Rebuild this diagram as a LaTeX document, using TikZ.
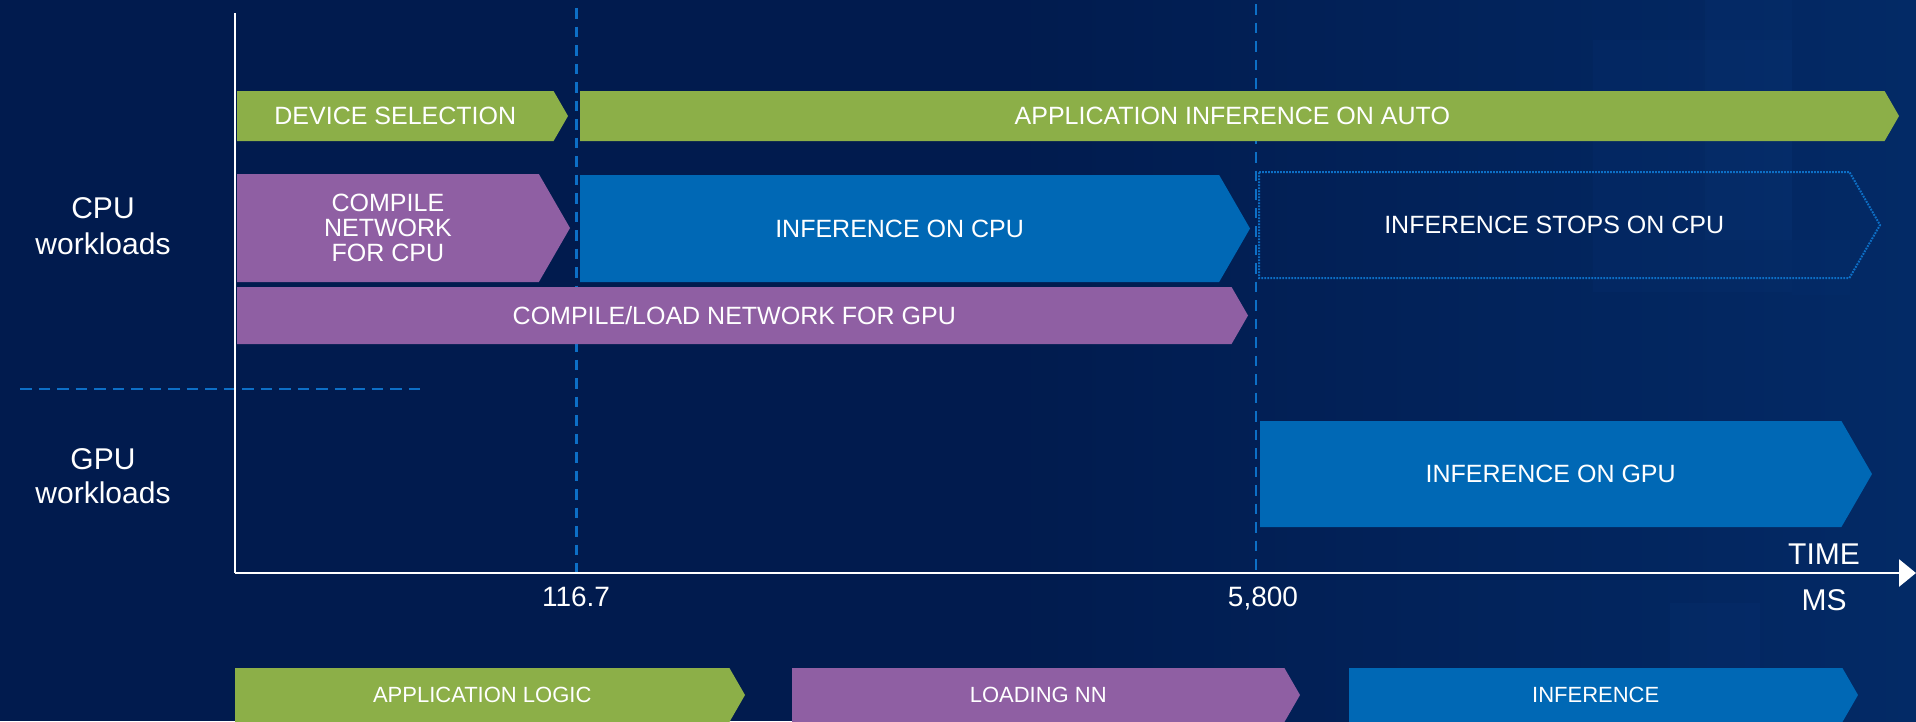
\documentclass[tikz,border=0pt]{standalone}
\usepackage{fontspec}
\setmainfont{Liberation Sans}
\usetikzlibrary{arrows.meta}

\definecolor{bgnavy}{HTML}{011B4E}
\definecolor{bgright}{HTML}{032A66}
\definecolor{bgpatch}{HTML}{0B3475}
\definecolor{appgreen}{HTML}{8CAF48}
\definecolor{loadpurple}{HTML}{8F5FA3}
\definecolor{runblue}{HTML}{0068B5}
\definecolor{guideblue}{HTML}{0D6FC6}

\tikzset{
  bartext/.style={text=white, inner sep=0pt, align=center,
    font=\fontsize{25}{25}\selectfont},
  smalltext/.style={text=white, inner sep=0pt,
    font=\fontsize{22}{22}\selectfont},
  sidelabel/.style={text=white, inner sep=0pt, anchor=base,
    font=\fontsize{30}{30}\selectfont},
  ticklabel/.style={text=white, inner sep=0pt, anchor=base,
    font=\fontsize{28}{28}\selectfont},
  axisline/.style={white, line width=2.8pt},
  guide/.style={guideblue, line width=2.5pt, dash pattern=on 10.5pt off 8pt},
  rowguide/.style={guideblue, line width=2.8pt, dash pattern=on 11.5pt off 7pt},
  greenbar/.style={fill=appgreen},
  purplebar/.style={fill=loadpurple},
  bluebar/.style={fill=runblue},
  ghostbar/.style={draw=guideblue, line width=2pt, dash pattern=on 1.8pt off 1.2pt},
}

% chevron bar: name, style, left x, tip x, top y, bottom y, label, label style
\newcommand\chevbar[8]{%
  \pgfmathsetmacro\chevhalf{(#6-#5)/2}%
  \pgfmathsetmacro\chevshoulder{#4-0.577*\chevhalf}%
  \pgfmathsetmacro\chevmid{(#5+#6)/2}%
  \path[#2] (#3,#5) -- (\chevshoulder,#5) -- (#4,\chevmid) -- (\chevshoulder,#6) -- (#3,#6) -- cycle;
  \node[#8] (#1) at ({(#3+\chevshoulder)/2},\chevmid) {#7};%
}

\begin{document}
\begin{tikzpicture}[x=1pt,y=-1pt]
  % canvas
  \useasboundingbox (0,0) rectangle (1916,721);
  \clip (0,0) rectangle (1916,721);
  \fill[bgnavy] (0,0) rectangle (1916,721);
  \shade[left color=bgnavy, right color=bgright] (1000,0) rectangle (1916,721);

  % faint squares of the backdrop
  \fill[bgpatch, opacity=0.18] (1593,40) rectangle (1792,292);
  \fill[bgpatch, opacity=0.20] (1705,0) rectangle (1792,240);
  \fill[bgpatch, opacity=0.12] (1792,240) rectangle (1850,295);
  \fill[bgpatch, opacity=0.22] (1670,603) rectangle (1760,721);

  % milestone guides and row separator
  \coordinate (g1top) at (576.5,8);
  \coordinate (g1bot) at (576.5,573);
  \coordinate (g2top) at (1256,4);
  \coordinate (g2bot) at (1256,573);
  \coordinate (rowL) at (20,389);
  \coordinate (rowR) at (422,389);
  \draw[guide] (g1top) -- (g1bot);
  \draw[guide] (g2top) -- (g2bot);
  \draw[rowguide] (rowL) -- (rowR);

  % CPU row
  \chevbar{devsel}{greenbar}{237}{568}{91}{141}{DEVICE SELECTION}{bartext}
  \chevbar{appauto}{greenbar}{580}{1899}{91}{141}{APPLICATION INFERENCE ON AUTO}{bartext}
  \chevbar{compcpu}{purplebar}{237}{570}{174}{282}{COMPILE\\NETWORK\\FOR CPU}{bartext}
  \chevbar{infcpu}{bluebar}{580}{1250}{175}{282}{INFERENCE ON CPU}{bartext}
  \chevbar{stopcpu}{ghostbar}{1259}{1880}{172}{278}{INFERENCE STOPS ON CPU}{bartext}
  \chevbar{compgpu}{purplebar}{237}{1248}{287}{344}{COMPILE/LOAD NETWORK FOR GPU}{bartext}

  % GPU row
  \chevbar{infgpu}{bluebar}{1260}{1872}{421}{527}{INFERENCE ON GPU}{bartext}

  % legend
  \chevbar{legapp}{greenbar}{235}{745}{668}{722}{APPLICATION LOGIC}{smalltext}
  \chevbar{legload}{purplebar}{792}{1300}{668}{722}{LOADING NN}{smalltext}
  \chevbar{leginf}{bluebar}{1349}{1858}{668}{722}{INFERENCE}{smalltext}

  % axes
  \coordinate (origin) at (235,573);
  \coordinate (ytop) at (235,13);
  \coordinate (xend) at (1916,573);
  \draw[axisline] (ytop) -- (origin);
  \draw[axisline, -{Triangle[length=17pt,width=27pt]}] (origin) -- (xend);

  % row labels
  \node[sidelabel] (cpuA) at (103,218) {CPU};
  \node[sidelabel] (cpuB) at (103,254) {workloads};
  \node[sidelabel] (gpuA) at (103,469) {GPU};
  \node[sidelabel] (gpuB) at (103,503) {workloads};

  % axis labels
  \node[ticklabel] (t1) at (576,606) {116.7};
  \node[ticklabel] (t2) at (1263,606) {5,800};
  \node[sidelabel] (timelbl) at (1824,564) {TIME};
  \node[sidelabel] (mslbl) at (1824,610) {MS};
\end{tikzpicture}
\end{document}
